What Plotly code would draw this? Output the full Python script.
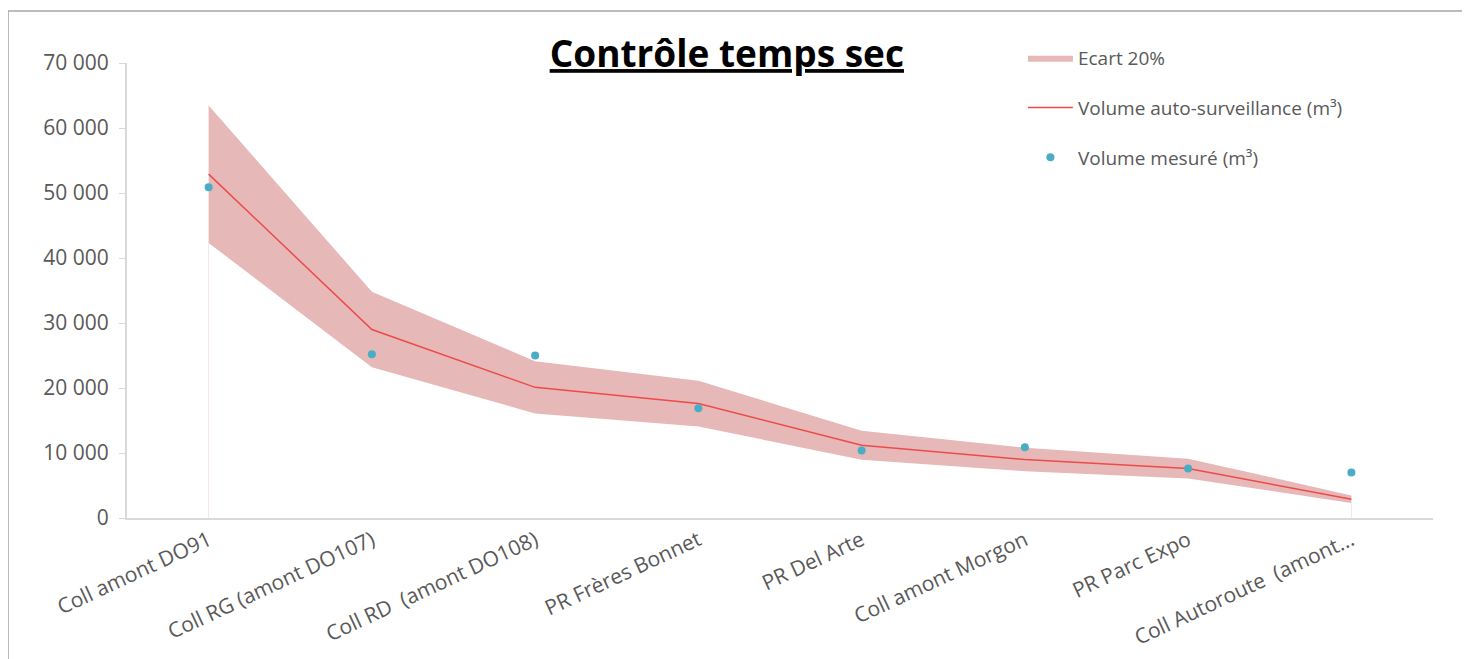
import plotly.graph_objects as go

# Data
SITES = [
    "Coll amont DO91",
    "Coll RG (amont DO107)",
    "Coll RD  (amont DO108)",
    "PR Frères Bonnet",
    "PR Del Arte",
    "Coll amont Morgon",
    "PR Parc Expo",
    "Coll Autoroute  (amont...",
]
VOL_AUTO = [52900, 29000, 20100, 17600, 11200, 9000, 7600, 2900]
VOL_MESURE = [50900, 25200, 25000, 16900, 10400, 10900, 7600, 7000]
ECART = 0.20
Y_TICKS = [0, 10000, 20000, 30000, 40000, 50000, 60000, 70000]

LOWER = [v * (1 - ECART) for v in VOL_AUTO]
UPPER = [v * (1 + ECART) for v in VOL_AUTO]

BAND_COLOR = "#e6b8b7"
LINE_COLOR = "#ee4a4a"
DOT_COLOR = "#4bacc6"
TEXT_COLOR = "#595959"
AXIS_COLOR = "#d9d9d9"
FONT = "Open Sans"

fig = go.Figure()

fig.add_trace(go.Scatter(
    x=SITES, y=LOWER, mode="lines", line=dict(width=0, color=BAND_COLOR),
    showlegend=False, hoverinfo="skip", legendgroup="band",
))
fig.add_trace(go.Scatter(
    x=SITES, y=UPPER, mode="lines", line=dict(width=0, color=BAND_COLOR),
    fill="tonexty", fillcolor=BAND_COLOR, name="Ecart 20%", legendgroup="band",
))

# faint edges of the band area down to the axis (first and last site)
for i in (0, len(SITES) - 1):
    fig.add_trace(go.Scatter(
        x=[SITES[i], SITES[i]], y=[0, LOWER[i]], mode="lines",
        line=dict(width=1, color="#f6e4e4"), showlegend=False, hoverinfo="skip",
    ))

fig.add_trace(go.Scatter(
    x=SITES, y=VOL_AUTO, mode="lines", line=dict(width=1.5, color=LINE_COLOR),
    name="Volume auto-surveillance (m³)", legendgroup="auto",
))
fig.add_trace(go.Scatter(
    x=SITES, y=VOL_MESURE, mode="markers",
    marker=dict(size=8, color=DOT_COLOR),
    name="Volume mesuré (m³)", legendgroup="mes",
))

# outer frame of the chart
fig.add_shape(type="rect", xref="paper", yref="paper",
              x0=-0.0911, x1=1.0245, y0=-0.40, y1=1.1143,
              line=dict(color="#a6a6a6", width=1.5), layer="below")

fig.update_layout(
    width=1470, height=659,
    margin=dict(l=119, r=45, t=55, b=149),
    paper_bgcolor="white", plot_bgcolor="white",
    separators=", ",
    font=dict(family=FONT, size=20, color=TEXT_COLOR),
    title=dict(
        text="<b><u>Contrôle temps sec</u></b>",
        font=dict(family=FONT, size=37, color="#000000"),
        x=0.489, xref="container", xanchor="center",
        y=0.930, yref="container", yanchor="middle",
    ),
    legend=dict(
        x=0.686, y=1.053, xanchor="left", yanchor="top",
        font=dict(family=FONT, size=19, color=TEXT_COLOR),
        bgcolor="rgba(0,0,0,0)", tracegroupgap=22,
        traceorder="grouped", itemwidth=45,
    ),
    xaxis=dict(
        categoryorder="array", categoryarray=SITES,
        range=[-0.5, len(SITES) - 0.5],
        showgrid=False, zeroline=False,
        showline=True, linecolor=AXIS_COLOR, linewidth=2,
        tickangle=-25, tickfont=dict(size=21, color=TEXT_COLOR),
        ticks="",
    ),
    yaxis=dict(
        range=[0, 70000], tickvals=Y_TICKS, tickformat=",d",
        showgrid=False, zeroline=False,
        showline=True, linecolor=AXIS_COLOR, linewidth=2,
        ticks="outside", ticklen=6, tickcolor=AXIS_COLOR,
        ticklabelstandoff=6,
        tickfont=dict(size=21, color=TEXT_COLOR),
    ),
)

fig.write_html("out.html")
